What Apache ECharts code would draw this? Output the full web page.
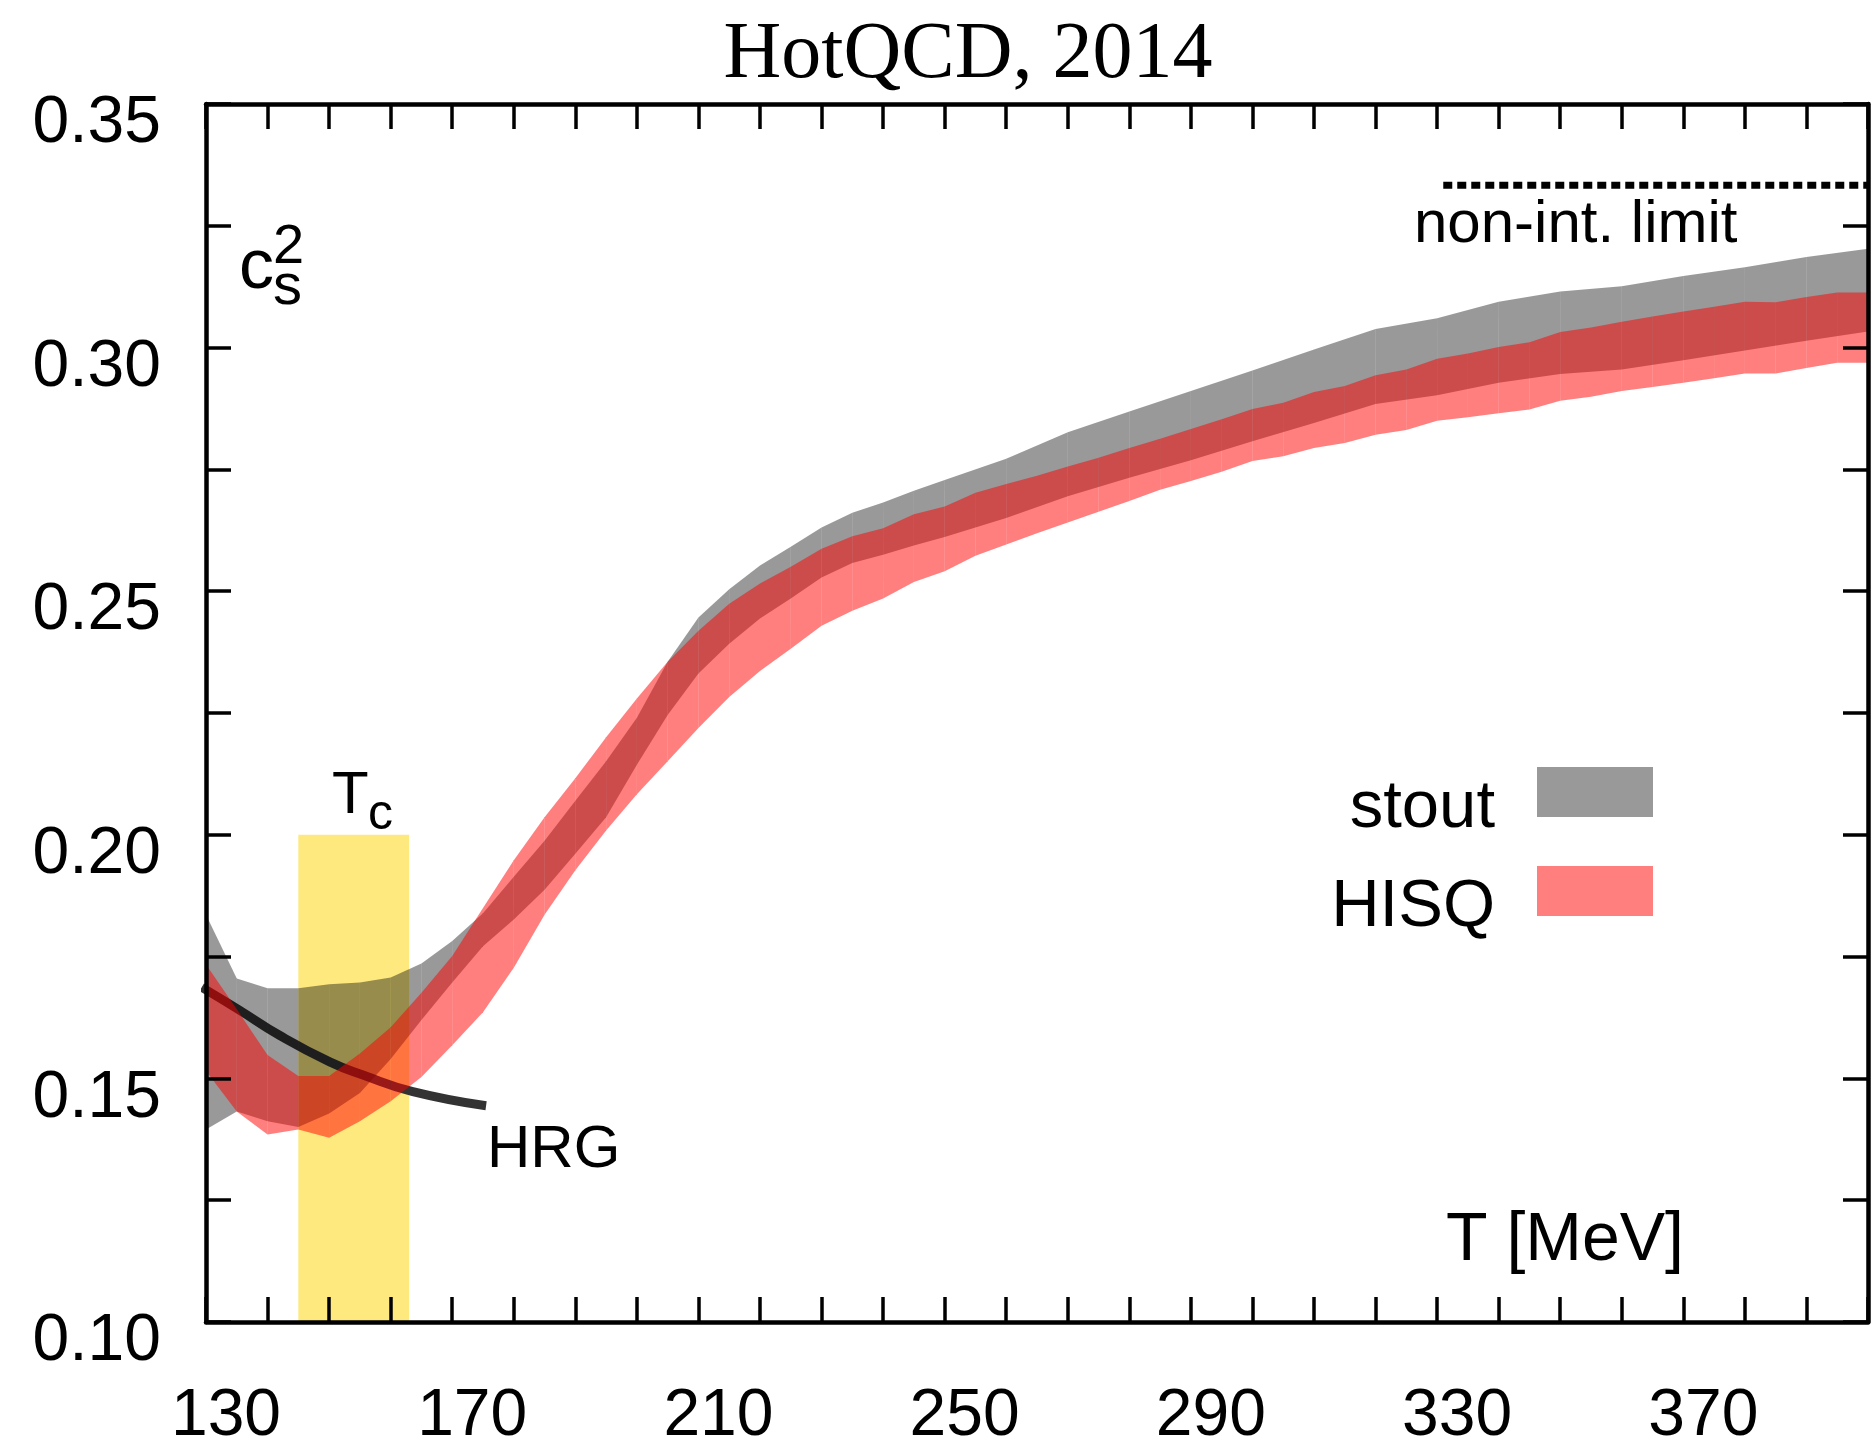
<!DOCTYPE html>
<html>
<head>
<meta charset="utf-8">
<title>Speed of sound squared, HotQCD 2014</title>
<script src="https://cdn.jsdelivr.net/npm/echarts@6/dist/echarts.min.js"></script>
<style>
  html, body { margin: 0; padding: 0; background: #ffffff; }
  #chart { width: 1871px; height: 1450px; }
</style>
</head>
<body>
<div id="chart"></div>
<script>
// ---- data -------------------------------------------------------------
// stout (Wuppertal-Budapest) band: temperature nodes [MeV] and c_s^2 bounds
const stoutT = [130, 135, 140, 145, 150, 155, 160, 165, 170, 175, 180, 185, 190, 195, 200,
                205, 210, 215, 220, 225, 230, 235, 240, 245, 250,
                260, 270, 280, 290, 300, 310, 320, 330, 340, 350, 360, 370, 380, 390, 400];
const stoutHigh = [0.1836, 0.1705, 0.1685, 0.1685, 0.1693, 0.1697, 0.1707, 0.1736, 0.1782, 0.1839,
                   0.1914, 0.1988, 0.2070, 0.2151, 0.2240, 0.2355, 0.2446, 0.2504, 0.2553, 0.2591,
                   0.2631, 0.2661, 0.2682, 0.2706, 0.2728,
                   0.2772, 0.2826, 0.2869, 0.2911, 0.2953, 0.2996, 0.3038, 0.3060, 0.3094, 0.3115,
                   0.3126, 0.3147, 0.3165, 0.3186, 0.3203];
const stoutLow = [0.1395, 0.1432, 0.1412, 0.1400, 0.1428, 0.1470, 0.1540, 0.1620, 0.1697, 0.1771,
                  0.1826, 0.1887, 0.1961, 0.2036, 0.2144, 0.2246, 0.2331, 0.2392, 0.2444, 0.2485,
                  0.2528, 0.2558, 0.2575, 0.2594, 0.2611,
                  0.2650, 0.2695, 0.2733, 0.2769, 0.2808, 0.2845, 0.2884, 0.2902, 0.2928, 0.2946,
                  0.2955, 0.2974, 0.2994, 0.3014, 0.3033];

// HISQ (HotQCD) band
const hisqT = [130, 135, 140, 145, 150, 155, 160, 165, 170, 175, 180, 185, 190, 195, 200,
               205, 210, 215, 220, 225, 230, 235, 240, 245, 250, 255, 260, 265, 270, 275,
               280, 285, 290, 295, 300, 305, 310, 315, 320, 325, 330, 335, 340, 345, 350,
               355, 360, 365, 370, 375, 380, 385, 390, 395, 400];
const hisqHigh = [0.1734, 0.1642, 0.1548, 0.1505, 0.1505, 0.1551, 0.1605, 0.1676, 0.1751, 0.1850,
                  0.1948, 0.2036, 0.2116, 0.2200, 0.2280, 0.2355, 0.2419, 0.2474, 0.2516, 0.2550,
                  0.2587, 0.2613, 0.2629, 0.2658, 0.2674, 0.2702, 0.2720, 0.2737, 0.2756, 0.2774,
                  0.2794, 0.2813, 0.2833, 0.2853, 0.2874, 0.2887, 0.2909, 0.2921, 0.2943, 0.2955,
                  0.2977, 0.2988, 0.3001, 0.3011, 0.3032, 0.3041, 0.3053, 0.3064, 0.3074, 0.3084,
                  0.3094, 0.3093, 0.3104, 0.3113, 0.3113];
const hisqLow = [0.1515, 0.1432, 0.1385, 0.1395, 0.1378, 0.1412, 0.1453, 0.1503, 0.1568, 0.1636,
                 0.1727, 0.1836, 0.1927, 0.2009, 0.2083, 0.2151, 0.2219, 0.2283, 0.2336, 0.2382,
                 0.2429, 0.2460, 0.2485, 0.2519, 0.2541, 0.2573, 0.2596, 0.2619, 0.2641, 0.2663,
                 0.2685, 0.2708, 0.2726, 0.2745, 0.2767, 0.2777, 0.2794, 0.2804, 0.2821, 0.2831,
                 0.2850, 0.2857, 0.2865, 0.2873, 0.2891, 0.2899, 0.2911, 0.2919, 0.2928, 0.2937,
                 0.2947, 0.2947, 0.2958, 0.2969, 0.2969];

// hadron resonance gas curve
const hrgT = [129.3, 135.2, 142.0, 150.1, 155.5, 163.6, 175.5];
const hrgV = [0.1687, 0.1642, 0.1588, 0.1534, 0.1507, 0.1473, 0.1444];

// pseudo-critical temperature window and its drawn height
const tcRange = [145, 163];
const tcBand = [0.10, 0.20];

// non-interacting (Stefan-Boltzmann) limit c_s^2 = 1/3
const limitT = [331, 400];
const limitV = 1 / 3;

// tick labels
const xLabels = ['130', '170', '210', '250', '290', '330', '370'];
const yLabels = ['0.10', '0.15', '0.20', '0.25', '0.30', '0.35'];

// legend entries
const legendNames = ['stout', 'HISQ'];
const legendColors = ['rgba(0,0,0,0.4)', 'rgba(255,0,0,0.5)'];

// ---- chart ------------------------------------------------------------
const SANS = '"Liberation Sans", Arial, Helvetica, sans-serif';
const SERIF = '"Liberation Serif", "Times New Roman", serif';

function bandSeries(name, T, lo, hi, color, z) {
  // one quad per interval, so each node shows as a faint seam
  const data = [];
  for (let i = 0; i < T.length - 1; i++) {
    data.push([T[i], lo[i], hi[i], T[i + 1], lo[i + 1], hi[i + 1]]);
  }
  return {
    type: 'custom',
    name: name,
    z: z,
    silent: true,
    data: data,
    encode: { x: [0, 3], y: [1, 2, 4, 5] },
    renderItem: function (params, api) {
      const a = api.coord([api.value(0), api.value(1)]);
      const b = api.coord([api.value(0), api.value(2)]);
      const c = api.coord([api.value(3), api.value(5)]);
      const d = api.coord([api.value(3), api.value(4)]);
      return {
        type: 'polygon',
        shape: { points: [a, b, c, d] },
        style: { fill: color, stroke: null }
      };
    }
  };
}

const axisLineStyle = { color: '#000', width: 4.5 };
const tickStyle = { color: '#000', width: 3.5 };

function xAxisDef(pos, showLabels) {
  return {
    type: 'value', position: pos, min: 130, max: 400, interval: 10, z: 10,
    axisLine: { show: true, onZero: false, lineStyle: axisLineStyle },
    axisTick: { show: true, inside: true, length: 25, lineStyle: tickStyle },
    splitLine: { show: false },
    axisLabel: {
      show: showLabels, margin: 62, padding: [0, 0, 0, 40],
      fontSize: 66, fontFamily: SANS, color: '#000',
      formatter: function (v) {
        const s = String(Math.round(v));
        return xLabels.indexOf(s) >= 0 ? s : '';
      }
    }
  };
}

function yAxisDef(pos, showLabels) {
  return {
    type: 'value', position: pos, min: 0.10, max: 0.35, interval: 0.025, z: 10,
    axisLine: { show: true, onZero: false, lineStyle: axisLineStyle },
    axisTick: { show: true, inside: true, length: 25, lineStyle: tickStyle },
    splitLine: { show: false },
    axisLabel: {
      show: showLabels, margin: 45,
      verticalAlign: 'top', lineHeight: 40,
      fontSize: 66, fontFamily: SANS, color: '#000',
      formatter: function (v) {
        const s = v.toFixed(3);
        const t = s.slice(0, 4);
        return (s.charAt(4) === '0' && yLabels.indexOf(t) >= 0) ? t : '';
      }
    }
  };
}

const chart = echarts.init(document.getElementById('chart'), null, { renderer: 'canvas' });

const legendGraphics = [];
legendNames.forEach(function (name, i) {
  const top = 767 + i * 99;
  legendGraphics.push({
    type: 'rect', shape: { x: 1537, y: top, width: 116, height: 50 },
    style: { fill: legendColors[i] }, silent: true
  });
  legendGraphics.push({
    type: 'text', x: 1495, y: top + 42, silent: true,
    style: { text: name, font: '67px ' + SANS, fill: '#000', align: 'right', verticalAlign: 'middle' }
  });
});

chart.setOption({
  animation: false,
  backgroundColor: '#ffffff',
  grid: { left: 206, top: 104, width: 1668, height: 1228, containLabel: false },
  xAxis: [xAxisDef('bottom', true), xAxisDef('top', false)],
  yAxis: [yAxisDef('left', true), yAxisDef('right', false)],
  series: [
    {
      type: 'custom', name: 'Tc', z: 1, silent: true,
      data: [[tcRange[0], tcBand[0], tcRange[1], tcBand[1]]],
      encode: { x: [0, 2], y: [1, 3] },
      renderItem: function (params, api) {
        const p0 = api.coord([api.value(0), api.value(3)]);
        const p1 = api.coord([api.value(2), api.value(1)]);
        return {
          type: 'rect',
          shape: { x: p0[0], y: p0[1], width: p1[0] - p0[0], height: p1[1] - p0[1] },
          style: { fill: '#fee97f' }
        };
      }
    },
    {
      type: 'line', name: 'HRG', z: 2, silent: true, clip: false,
      smooth: 0.5, showSymbol: false,
      data: hrgT.map(function (t, i) { return [t, hrgV[i]]; }),
      lineStyle: { color: '#333333', width: 9, cap: 'butt' }
    },
    bandSeries('stout', stoutT, stoutLow, stoutHigh, legendColors[0], 3),
    bandSeries('HISQ', hisqT, hisqLow, hisqHigh, legendColors[1], 4),
    {
      type: 'line', name: 'non-int. limit', z: 5, silent: true, clip: false,
      showSymbol: false,
      data: limitT.map(function (t) { return [t, limitV]; }),
      lineStyle: { color: '#000', width: 7, type: [9, 5], cap: 'butt' }
    }
  ],
  graphic: [
    { type: 'text', x: 968, y: 56, silent: true,
      style: { text: 'HotQCD, 2014', font: '80px ' + SERIF, fill: '#000', align: 'center', verticalAlign: 'middle' } },
    { type: 'text', x: 239, y: 269, silent: true,
      style: { text: 'c', font: '70px ' + SANS, fill: '#000', align: 'left', verticalAlign: 'middle' } },
    { type: 'text', x: 273, y: 248, silent: true,
      style: { text: '2', font: '56px ' + SANS, fill: '#000', align: 'left', verticalAlign: 'middle' } },
    { type: 'text', x: 273, y: 288, silent: true,
      style: { text: 's', font: '58px ' + SANS, fill: '#000', align: 'left', verticalAlign: 'middle' } },
    { type: 'text', x: 332, y: 796, silent: true,
      style: { text: 'T', font: '60px ' + SANS, fill: '#000', align: 'left', verticalAlign: 'middle' } },
    { type: 'text', x: 368, y: 815, silent: true,
      style: { text: 'c', font: '50px ' + SANS, fill: '#000', align: 'left', verticalAlign: 'middle' } },
    { type: 'text', x: 487, y: 1150, silent: true,
      style: { text: 'HRG', font: '60px ' + SANS, fill: '#000', align: 'left', verticalAlign: 'middle' } },
    { type: 'text', x: 1414, y: 225, silent: true,
      style: { text: 'non-int. limit', font: '60px ' + SANS, fill: '#000', align: 'left', verticalAlign: 'middle' } },
    { type: 'text', x: 1684, y: 1241, silent: true,
      style: { text: 'T [MeV]', font: '68px ' + SANS, fill: '#000', align: 'right', verticalAlign: 'middle' } }
  ].concat(legendGraphics)
});
</script>
</body>
</html>
